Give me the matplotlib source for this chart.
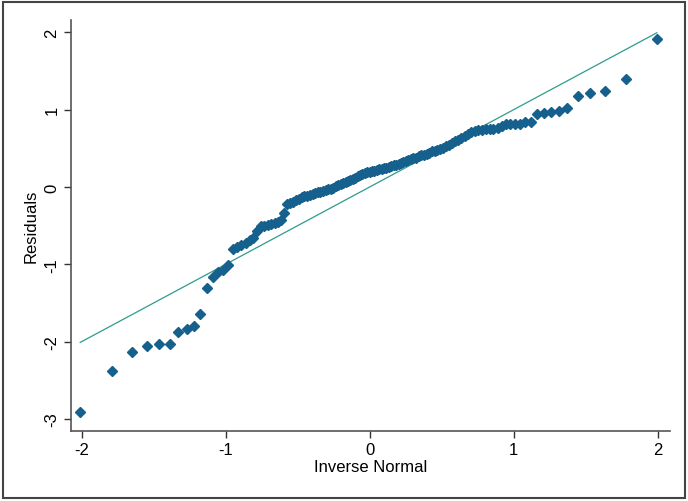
import numpy as np
import matplotlib
matplotlib.use("Agg")
from matplotlib import pyplot as plt
from matplotlib.patches import Rectangle

# inverse normal (x)
inv_left = [-2.009, -1.789, -1.650, -1.546, -1.461, -1.389, -1.327, -1.271, -1.220, -1.174,
            -1.130, -1.090, -1.053, -1.017, -0.983, -0.950, -0.920, -0.890, -0.860, -0.833,
            -0.806, -0.780, -0.754, -0.730, -0.706, -0.682, -0.660, -0.637, -0.616, -0.594,
            -0.572, -0.551, -0.531, -0.511, -0.491, -0.471, -0.452, -0.433, -0.414, -0.396,
            -0.377, -0.359, -0.341, -0.322, -0.305, -0.287, -0.270, -0.252, -0.235, -0.217,
            -0.201, -0.183, -0.167, -0.150, -0.133, -0.117, -0.100, -0.083, -0.067, -0.050,
            -0.033, -0.017, 0.0]
inv_right = [0.017, 0.033, 0.050, 0.067, 0.083, 0.100, 0.117, 0.133, 0.150, 0.167,
             0.183, 0.201, 0.217, 0.235, 0.252, 0.270, 0.287, 0.305, 0.322, 0.341,
             0.359, 0.377, 0.396, 0.414, 0.433, 0.452, 0.471, 0.491, 0.511, 0.531,
             0.551, 0.572, 0.594, 0.616, 0.637, 0.660, 0.682, 0.706, 0.730, 0.754,
             0.780, 0.806, 0.833, 0.860, 0.890, 0.918, 0.947, 0.978, 1.010, 1.044,
             1.080, 1.120, 1.162, 1.208, 1.258, 1.312, 1.370, 1.445, 1.530, 1.635,
             1.780, 1.995]
inv_normal = inv_left + inv_right

# sorted residuals (y)
residuals = [-2.91, -2.38, -2.13, -2.05, -2.03, -2.03, -1.88, -1.83, -1.80, -1.64,
             -1.31, -1.16, -1.10, -1.07, -1.01, -0.80, -0.77, -0.75, -0.72, -0.69,
             -0.66, -0.57, -0.51, -0.50, -0.49, -0.48, -0.465, -0.45, -0.43, -0.34,
             -0.215, -0.20, -0.19, -0.17, -0.15, -0.13, -0.12, -0.11, -0.10, -0.09,
             -0.08, -0.07, -0.06, -0.05, -0.04, -0.03, -0.02, -0.01, 0.01, 0.02,
             0.04, 0.05, 0.07, 0.08, 0.09, 0.11, 0.12, 0.14, 0.15, 0.17,
             0.18, 0.19, 0.20, 0.21, 0.21, 0.22, 0.23, 0.23, 0.24, 0.25,
             0.26, 0.27, 0.28, 0.29, 0.30, 0.31, 0.33, 0.34, 0.35, 0.36,
             0.37, 0.38, 0.40, 0.41, 0.42, 0.43, 0.44, 0.46, 0.47, 0.48,
             0.49, 0.51, 0.53, 0.55, 0.57, 0.59, 0.61, 0.63, 0.66, 0.69,
             0.71, 0.73, 0.74, 0.74, 0.75, 0.75, 0.75, 0.76, 0.79, 0.81,
             0.81, 0.81, 0.81, 0.845, 0.845, 0.94, 0.96, 0.97, 0.985, 1.02,
             1.18, 1.22, 1.24, 1.40, 1.92]

xticks = [-2, -1, 0, 1, 2]
yticks = [-3, -2, -1, 0, 1, 2]

plt.rcParams['font.family'] = ['Liberation Sans', 'DejaVu Sans']

fig = plt.figure(figsize=(6.88, 5.02), dpi=100)
ax = fig.add_axes([0.1026, 0.1394, 0.871, 0.818])

ends = [inv_normal[0], inv_normal[-1]]
ax.plot(ends, ends, color='#2e9c8c', lw=0.9, zorder=2)
ax.plot(inv_normal, residuals, 'D', ms=4.8, color='#15608c', mec='#15608c', zorder=3)

ax.set_xlim(-2.076, 2.085)
ax.set_ylim(-3.155, 2.155)
ax.set_xticks(xticks)
ax.set_yticks(yticks)
ax.set_xticklabels([str(t) for t in xticks], fontsize=12)
ax.set_yticklabels([str(t) for t in yticks], fontsize=12, rotation=90, va='center')
ax.tick_params(direction='out', length=5, width=1, color='#333333', pad=3)

for s in ['top', 'right']:
    ax.spines[s].set_visible(False)
for s in ['left', 'bottom']:
    ax.spines[s].set_color('#555555')
    ax.spines[s].set_linewidth(1.2)

ax.set_xlabel('Inverse Normal', fontsize=12, labelpad=1)
ax.set_ylabel('Residuals', fontsize=12, labelpad=4)

# outer frame around the whole graph
fig.patches.append(Rectangle((0.004, 0.005), 0.991, 0.99, transform=fig.transFigure,
                             fill=False, ec='#444444', lw=1.5))

fig.savefig('out.png', dpi=100)
